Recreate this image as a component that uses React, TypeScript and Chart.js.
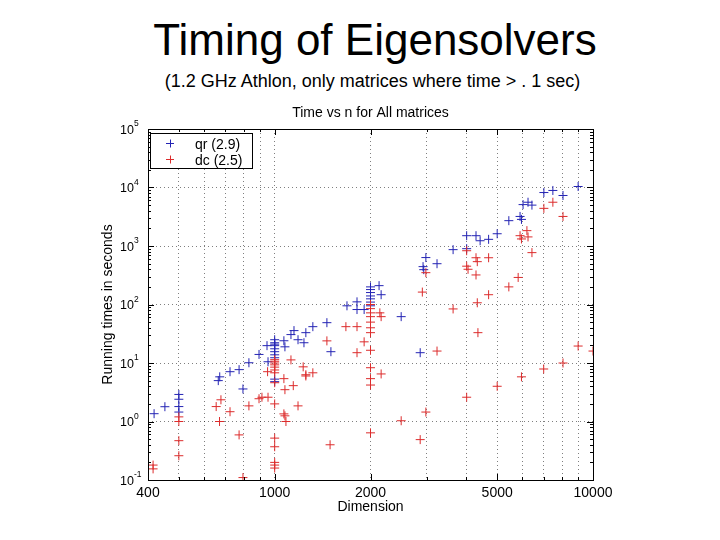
import React, { useEffect, useRef } from "react";
import { Chart, registerables } from "chart.js";

Chart.register(...registerables);

const FONT = "'Liberation Sans', Arial, sans-serif";

// qr timings: matrix dimension and seconds
const qrN = [
  418, 452, 500, 500, 500, 500, 665, 672, 724, 773, 795, 830, 893, 946, 953,
  1000, 1000, 1000, 1000, 1000, 1000, 1000, 1000, 1000, 1000,
  1069, 1077, 1125, 1150, 1184, 1236, 1253, 1318, 1459, 1502, 1687, 1814, 1814, 1910,
  2000, 2000, 2000, 2000, 2000, 2000, 2000, 2128, 2160, 2497, 2865, 2925, 2940, 2985,
  3236, 3635, 4010, 4010, 4290, 4420, 4700, 5000, 5440, 5900, 5960, 6030, 6250, 6430,
  7010, 7480, 8050, 8980,
];
const qrT = [
  1.36, 1.79, 2.9, 2.4, 1.8, 1.45, 5.0, 5.8, 7.1, 7.7, 3.6, 10.1, 14, 19.8, 10.5,
  25, 22.2, 19.8, 17.5, 15.6, 13.8, 12.3, 5.3, 4.8, 21,
  24, 18.9, 30.6, 35.8, 25, 22.2, 33, 41.8, 48.9, 15.6, 95, 111, 82, 82,
  200, 180, 160, 140, 125, 110, 95, 210, 147, 62, 15, 444, 394, 634,
  498, 866, 900, 1500, 1500, 1230, 1300, 1620, 2710, 3200, 2850, 5100, 5600, 5000,
  8200, 8900, 7300, 10400,
];

// dc timings: matrix dimension and seconds
const dcN = [
  415, 415, 500, 500, 500, 500, 655, 671, 678, 724, 773, 795, 830, 893, 912, 950, 953,
  1000, 1000, 1000, 1000, 1000, 1000, 1000, 1000, 1000, 1000, 1000, 1000, 1000, 1000,
  1069, 1069, 1077, 1077, 1085, 1125, 1144, 1184, 1229, 1253, 1253, 1318, 1459, 1493,
  1674, 1814, 1814, 1910,
  2000, 2000, 2000, 2000, 2000, 2000, 2000, 2000, 2000, 2000, 2000, 2000,
  2140, 2160, 2160, 2497, 2865, 2910, 2985, 2985, 3236, 3635,
  4010, 4010, 4050, 4010, 4290, 4330, 4290, 4330, 4350, 4700, 4700, 5000,
  5440, 5820, 5900, 5960, 5960, 6200, 6250, 6430, 7010, 7000, 7480, 8050, 8050, 8980, 10000,
];
const dcT = [
  0.18, 0.155, 1.2, 1.0, 0.47, 0.26, 1.8, 1.0, 2.35, 1.47, 0.59, 0.11, 1.85, 2.45, 2.6, 7.1, 2.6,
  11.4, 10.7, 10, 9.3, 8.5, 7.6, 6.8, 4.6, 2.0, 0.52, 0.37, 0.2, 0.18, 0.16,
  5.4, 1.35, 3.5, 1.25, 1.0, 11.3, 4.1, 1.85, 8.6, 6.3, 6.0, 6.8, 23.9, 0.4,
  41.8, 41.8, 15, 23,
  100, 85, 72, 62, 50, 40, 33, 16.5, 8.3, 5.4, 4.2, 0.64,
  72, 62, 6.5, 1.03, 0.49, 163, 350, 1.45, 16, 84,
  830, 452, 400, 2.6, 630, 540, 320, 107, 33, 630, 147, 4.0,
  200, 290, 1500, 1320, 5.8, 1830, 1430, 770, 4400, 7.9, 5600, 3200, 10, 19.5, 16,
];

const seriesLabels = ["qr (2.9)", "dc (2.5)"];
const seriesColors = ["#2424b4", "#dc2c2c"];

const xGridTicks = [400, 500, 600, 700, 800, 900, 1000, 2000, 3000, 4000, 5000, 6000, 7000, 8000, 9000, 10000];
const xLabelTicks = [400, 1000, 2000, 5000, 10000];
const yDecades = [0.1, 1, 10, 100, 1000, 10000, 100000];

// box around the axes, inward ticks, 10^n labels, legend in the upper left corner
const boxPlugin = {
  id: "box",
  afterDraw(chart: any) {
    const { ctx, chartArea: a, scales } = chart;
    ctx.save();
    ctx.setLineDash([]);
    ctx.strokeStyle = "#000";
    ctx.lineWidth = 1;
    ctx.beginPath();
    for (let i = 0; i < yDecades.length - 1; i++) {
      for (let k = 1; k < 10; k++) {
        const py = Math.round(scales.y.getPixelForValue(yDecades[i] * k)) + 0.5;
        const len = k === 1 ? 6 : 3;
        ctx.moveTo(a.left, py);
        ctx.lineTo(a.left + len, py);
        ctx.moveTo(a.right, py);
        ctx.lineTo(a.right - len, py);
      }
    }
    xGridTicks.forEach((v) => {
      const px = Math.round(scales.x.getPixelForValue(v)) + 0.5;
      const len = xLabelTicks.includes(v) ? 6 : 3;
      ctx.moveTo(px, a.bottom);
      ctx.lineTo(px, a.bottom - len);
      ctx.moveTo(px, a.top);
      ctx.lineTo(px, a.top + len);
    });
    ctx.stroke();
    ctx.strokeRect(Math.round(a.left) + 0.5, Math.round(a.top) + 0.5, Math.round(a.width), Math.round(a.height));

    // y tick labels: 10 with a raised exponent
    ctx.fillStyle = "#000";
    ctx.textBaseline = "alphabetic";
    yDecades.forEach((v) => {
      const py = scales.y.getPixelForValue(v);
      const exp = String(Math.round(Math.log10(v)));
      ctx.font = "8.5px " + FONT;
      ctx.textAlign = "left";
      ctx.fillText(exp, a.left - 14, py - 3);
      ctx.font = "12.5px " + FONT;
      ctx.textAlign = "right";
      ctx.fillText("10", a.left - 14, py + 4.5);
    });

    const lx = Math.round(a.left) + 2;
    const ly = Math.round(a.top) + 4;
    ctx.fillStyle = "#fff";
    ctx.fillRect(lx, ly, 102, 35);
    ctx.strokeRect(lx + 0.5, ly + 0.5, 102, 35);
    ctx.font = "14px " + FONT;
    ctx.textAlign = "left";
    chart.data.datasets.forEach((ds: any, i: number) => {
      const cy = ly + 10 + i * 16 + 0.5;
      ctx.strokeStyle = ds.borderColor;
      ctx.beginPath();
      ctx.moveTo(lx + 16, cy);
      ctx.lineTo(lx + 24, cy);
      ctx.moveTo(lx + 20.5, cy - 4);
      ctx.lineTo(lx + 20.5, cy + 4);
      ctx.stroke();
      ctx.fillStyle = "#000";
      ctx.fillText(ds.label, lx + 45, cy + 5);
    });
    ctx.restore();
  },
};

const TimingChart: React.FC = () => {
  const chartRef = useRef<HTMLCanvasElement>(null);

  useEffect(() => {
    if (!chartRef.current) return;
    const ctx = chartRef.current.getContext("2d");
    if (!ctx) return;
    Chart.defaults.font.family = FONT;

    const gridOpts = { color: "rgba(0,0,0,0.5)", lineWidth: 1, drawTicks: false };

    const myChart = new Chart(ctx, {
      type: "scatter",
      data: {
        datasets: [
          {
            label: seriesLabels[0],
            data: qrN.map((n, i) => ({ x: n, y: qrT[i] })),
            borderColor: seriesColors[0],
            backgroundColor: seriesColors[0],
            pointStyle: "cross",
            pointRadius: 4.5,
            pointBorderWidth: 1,
            order: 1,
          },
          {
            label: seriesLabels[1],
            data: dcN.map((n, i) => ({ x: n, y: dcT[i] })),
            borderColor: seriesColors[1],
            backgroundColor: seriesColors[1],
            pointStyle: "cross",
            pointRadius: 4.5,
            pointBorderWidth: 1,
            order: 0,
          },
        ],
      },
      options: {
        responsive: false,
        animation: false,
        layout: { padding: { left: 90, right: 127, top: 0, bottom: 0 } },
        plugins: {
          legend: { display: false },
          tooltip: { enabled: false },
          title: {
            display: true,
            text: "Time vs n for All matrices",
            fullSize: false,
            color: "#000",
            font: { size: 14, weight: "normal" },
            padding: { top: 10, bottom: 7.2 },
          },
        },
        scales: {
          x: {
            type: "logarithmic",
            min: 400,
            max: 10000,
            afterBuildTicks: (s: any) => {
              s.ticks = xGridTicks.map((v) => ({ value: v }));
            },
            afterFit: (s: any) => {
              s.height = 60;
            },
            ticks: {
              autoSkip: false,
              maxRotation: 0,
              padding: 5,
              color: "#000",
              font: { size: 14 },
              callback: (v: any) => (xLabelTicks.includes(Number(v)) ? String(v) : ""),
            },
            grid: gridOpts,
            border: { display: false, dash: [1, 3] },
            title: {
              display: true,
              text: "Dimension",
              color: "#000",
              font: { size: 14 },
              padding: { top: 0, bottom: 24.6 },
            },
          },
          y: {
            type: "logarithmic",
            min: 0.1,
            max: 100000,
            afterBuildTicks: (s: any) => {
              s.ticks = yDecades.map((v) => ({ value: v }));
            },
            afterFit: (s: any) => {
              s.width = 58;
            },
            ticks: {
              padding: 10,
              callback: () => "",
            },
            grid: gridOpts,
            border: { display: false, dash: [1, 3] },
            title: {
              display: true,
              text: "Running times in seconds",
              color: "#000",
              font: { size: 14 },
              padding: { top: 9.6, bottom: 0 },
            },
          },
        },
      },
      plugins: [boxPlugin],
    } as any);

    return () => {
      myChart.destroy();
    };
  }, []);

  return (
    <canvas
      ref={chartRef}
      width={720}
      height={445}
      style={{ position: "absolute", left: 0, top: 95, width: 720, height: 445 }}
    />
  );
};

export default function App() {
  return (
    <div
      style={{
        position: "absolute",
        left: 0,
        top: 0,
        width: 720,
        height: 540,
        background: "#fff",
        fontFamily: FONT,
        color: "#000",
      }}
    >
      <div
        style={{
          position: "absolute",
          left: 0,
          top: 18,
          width: 750,
          textAlign: "center",
          fontSize: 44,
          lineHeight: "44px",
        }}
      >
        Timing of Eigensolvers
      </div>
      <div
        style={{
          position: "absolute",
          left: 0,
          top: 72,
          width: 745,
          textAlign: "center",
          fontSize: 18,
          lineHeight: "18px",
        }}
      >
        (1.2 GHz Athlon, only matrices where time &gt; . 1 sec)
      </div>
      <TimingChart />
    </div>
  );
}
